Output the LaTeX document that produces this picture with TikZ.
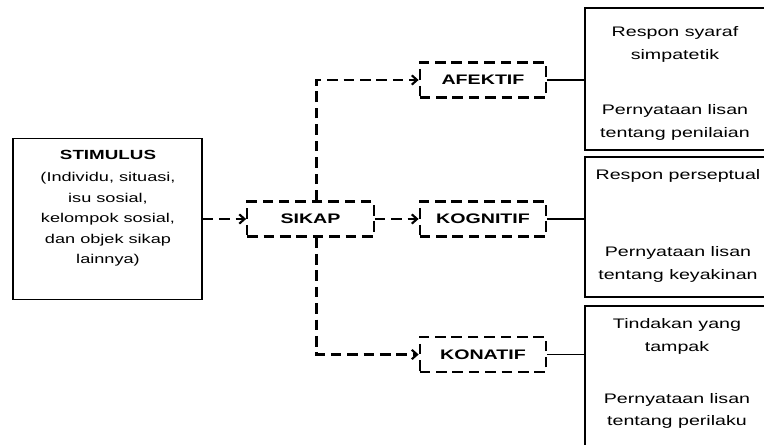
\documentclass[tikz,border=0pt]{standalone}
\usepackage{fontspec}
\setmainfont{Liberation Sans}[FakeStretch=1.42]
\usetikzlibrary{arrows.meta,calc}

\begin{document}
\begin{tikzpicture}[x=0.03cm,y=-0.03cm,
  tier/.style={draw,line width=1.8pt,dash pattern=on 9pt off 5pt,minimum width=3.8cm,minimum height=1.05cm,inner sep=0pt,font=\bfseries\fontsize{11.8pt}{13pt}\selectfont},
  respbox/.style={draw,line width=1.2pt,minimum width=5.52cm,inner sep=0pt},
  txt/.style={align=center,font=\fontsize{11.8pt}{19.5pt}\selectfont},
  dline/.style={line width=1.8pt,dash pattern=on 9pt off 5pt,-{Straight Barb[length=4.5pt,width=8pt]}}]
\useasboundingbox (0,0) rectangle (764,444);
\clip (0,0) rectangle (764,444);

\node[draw,line width=1.2pt,minimum width=5.67cm,minimum height=4.83cm] (stim) at (107.5,219) {};
\node[txt,font=\fontsize{10.9pt}{17.4pt}\selectfont] (stimtxt) at (108,208) {\textbf{\fontsize{11.3pt}{13pt}\selectfont STIMULUS}\\[2pt](Individu, situasi,\\isu sosial,\\kelompok sosial,\\dan objek sikap\\lainnya)};

\node[tier] (sikap) at (310.5,219) {SIKAP};
\node[tier] (afektif) at (483,80) {AFEKTIF};
\node[tier] (kognitif) at (483,219) {KOGNITIF};
\node[tier] (konatif) at (483,354.5) {KONATIF};

\node[respbox,minimum height=4.26cm] (resp1) at (677,79) {};
\node[respbox,minimum height=4.2cm] (resp2) at (677,227) {};
\node[respbox,minimum height=4.62cm] (resp3) at (677,383) {};

\node[txt] (t1) at (675,83.5) {Respon syaraf\\simpatetik\\[27pt]Pernyataan lisan\\tentang penilaian};
\node[txt] (t2) at (678,226) {Respon perseptual\\[46pt]Pernyataan lisan\\tentang keyakinan};
\node[txt] (t3) at (677,373.5) {Tindakan yang\\tampak\\[25pt]Pernyataan lisan\\tentang perilaku};

\draw[dline] (stim) -- (sikap);
\draw[dline] (sikap) -- (kognitif);
\draw[dline] ([xshift=0.18cm]sikap.north) |- (afektif);
\draw[dline] ([xshift=0.18cm]sikap.south) |- (konatif);

\draw[line width=0.9pt] (afektif) -- (afektif -| resp1.west);
\draw[line width=0.9pt] (kognitif) -- (kognitif -| resp2.west);
\draw[line width=0.9pt] (konatif) -- (konatif -| resp3.west);
\end{tikzpicture}
\end{document}
